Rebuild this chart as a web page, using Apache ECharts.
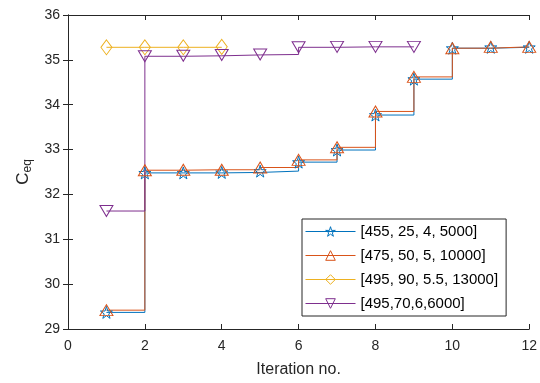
<!DOCTYPE html>
<html>
<head>
<meta charset="utf-8">
<script src="https://cdn.jsdelivr.net/npm/echarts@6/dist/echarts.min.js"></script>
<style>
  html, body { margin: 0; padding: 0; background: #fff; }
  #chart { width: 540px; height: 383px; }
</style>
</head>
<body>
<div id="chart"></div>
<script>
// values
var iterations = [1, 2, 3, 4, 5, 6, 7, 8, 9, 10, 11, 12];
var names = ['[455, 25, 4, 5000]', '[475, 50, 5, 10000]', '[495, 90, 5.5, 13000]', '[495,70,6,6000]'];
var ceq1 = [29.37, 32.48, 32.48, 32.49, 32.52, 32.72, 32.99, 33.77, 34.57, 35.26, 35.28, 35.28];
var ceq2 = [29.42, 32.54, 32.55, 32.55, 32.60, 32.77, 33.05, 33.85, 34.62, 35.26, 35.29, 35.29];
var ceq3 = [35.28, 35.28, 35.28, 35.29];
var ceq4 = [31.63, 35.08, 35.09, 35.11, 35.12, 35.28, 35.29, 35.29, 35.29];
var yTicks = [29, 30, 31, 32, 33, 34, 35, 36];

var colors = ['#0072BD', '#D95319', '#EDB120', '#7E2F8E'];
var star = 'path://M50,0 L61,35 L98,35 L68,57 L79,91 L50,70 L21,91 L32,57 L2,35 L39,35 Z';

function pairs(ys) {
    return ys.map(function (y, i) { return [iterations[i], y]; });
}

function stairs(idx, ys, symbol, size, rotate) {
    return {
        name: names[idx],
        type: 'line',
        step: 'end',
        data: pairs(ys),
        symbol: symbol,
        symbolSize: size,
        symbolRotate: rotate || 0,
        showAllSymbol: true,
        lineStyle: { color: colors[idx], width: 1 },
        itemStyle: { color: 'rgba(255,255,255,0)', borderColor: colors[idx], borderWidth: 1 },
        emphasis: { disabled: true },
        animation: false
    };
}

var axisCommon = {
    type: 'value',
    axisLine: { show: true, lineStyle: { color: '#262626', width: 1 } },
    axisTick: { show: true, inside: true, length: 5, lineStyle: { color: '#262626' } },
    splitLine: { show: false }
};

var option = {
    backgroundColor: '#fff',
    grid: { left: 68, right: 10, top: 15, bottom: 54 },
    legend: {
        orient: 'vertical',
        left: 302,
        top: 219,
        itemWidth: 50,
        itemHeight: 12,
        itemGap: 9,
        padding: [5, 8, 5, 3],
        borderColor: '#262626',
        borderWidth: 1,
        backgroundColor: '#fff',
        textStyle: { fontFamily: 'Liberation Sans', fontSize: 15, color: '#000' },
        data: names.map(function (n, i) {
            return {
                name: n,
                lineStyle: { width: 1, color: colors[i] },
                itemStyle: { color: 'rgba(255,255,255,0)', borderColor: colors[i], borderWidth: 1 }
            };
        })
    },
    xAxis: [
        Object.assign({}, axisCommon, {
            min: 0, max: 12, interval: 2,
            name: 'Iteration no.',
            nameLocation: 'middle',
            nameGap: 33,
            nameTextStyle: { fontFamily: 'Liberation Sans', fontSize: 16, color: '#262626' },
            axisLabel: { fontFamily: 'Liberation Sans', fontSize: 14, color: '#262626', margin: 10 }
        }),
        Object.assign({}, axisCommon, {
            position: 'top', min: 0, max: 12, interval: 2,
            axisLabel: { show: false }
        })
    ],
    yAxis: [
        Object.assign({}, axisCommon, {
            min: yTicks[0], max: yTicks[yTicks.length - 1], interval: 1,
            name: '{c|C}{s|eq}',
            nameLocation: 'middle',
            nameGap: 34,
            nameRotate: 90,
            nameTextStyle: {
                rich: {
                    c: { fontFamily: 'Liberation Sans', fontSize: 17, color: '#262626' },
                    s: { fontFamily: 'Liberation Sans', fontSize: 12, color: '#262626', padding: [8, 0, 0, 0] }
                }
            },
            axisLabel: { fontFamily: 'Liberation Sans', fontSize: 14, color: '#262626', margin: 8 }
        }),
        Object.assign({}, axisCommon, {
            position: 'right', min: 29, max: 36, interval: 1,
            axisLabel: { show: false }
        })
    ],
    series: [
        stairs(0, ceq1, star, 12),
        stairs(1, ceq2, 'triangle', [13, 11]),
        stairs(2, ceq3, 'diamond', [11, 15]),
        stairs(3, ceq4, 'triangle', [13, 11], 180)
    ]
};

echarts.init(document.getElementById('chart')).setOption(option);
</script>
</body>
</html>
